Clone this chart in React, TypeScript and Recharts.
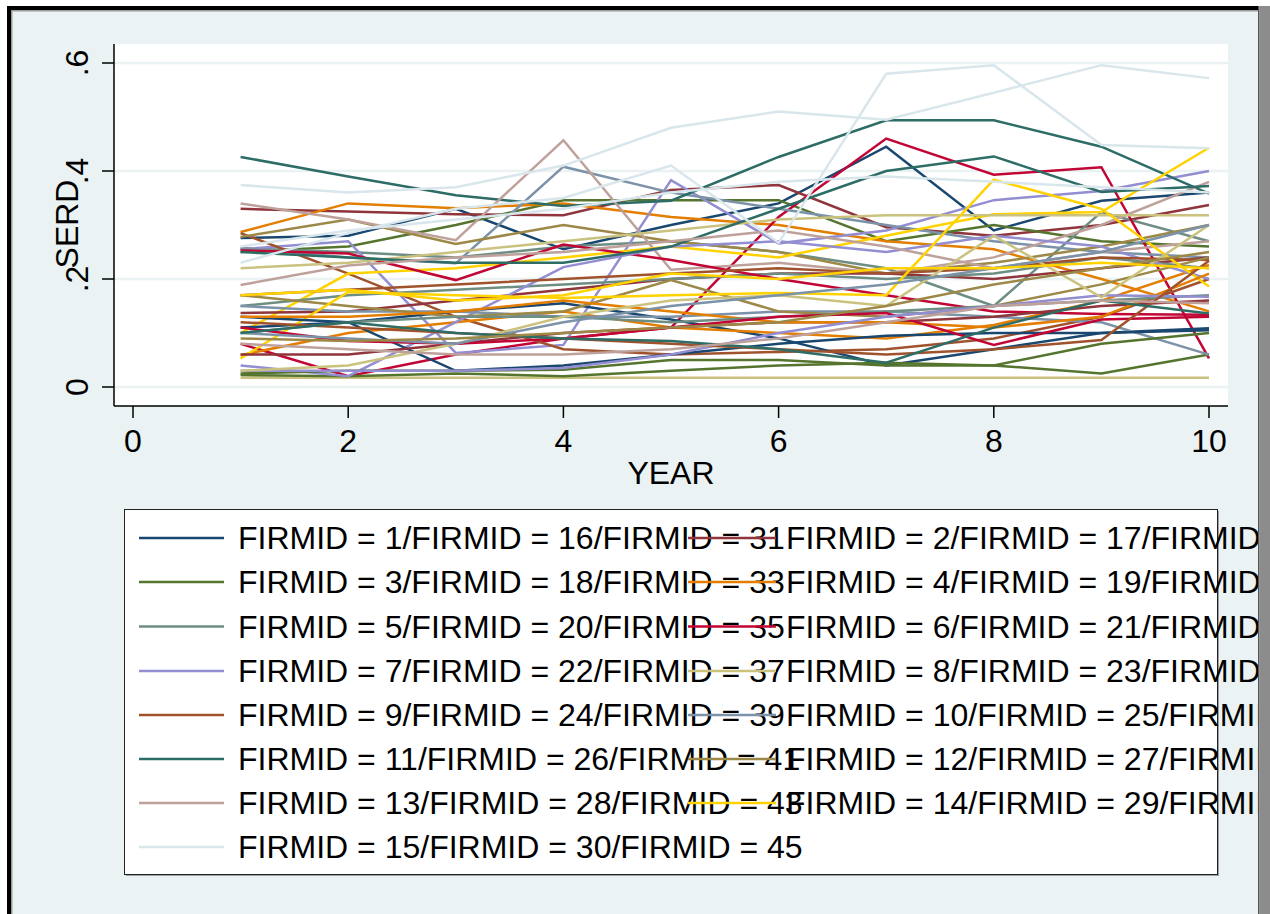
import React from "react";
import { LineChart, Line, XAxis, YAxis, CartesianGrid } from "recharts";

const years = [1, 2, 3, 4, 5, 6, 7, 8, 9, 10];
const xTicks = [0, 2, 4, 6, 8, 10];
const yTicks = [0, 0.2, 0.4, 0.6];
const yTickLabels = ["0", ".2", ".4", ".6"];

// Stata s2color pens, one per firm group (firm k uses pen (k-1) % 15)
const palette = [
    "#1a476f", "#90353b", "#55752f", "#e37e00", "#6e8e84",
    "#c10534", "#938dd2", "#cac27e", "#a0522d", "#7b92a8",
    "#2d6d66", "#9c8847", "#bfa19c", "#ffd200", "#d9e6eb",
];

// each group: firms c, c+15, c+30 (SERD by YEAR 1..10)
const navy = [
    [0.276, 0.28, 0.33, 0.255, 0.3, 0.34, 0.445, 0.29, 0.345, 0.36],
    [0.11, 0.12, 0.14, 0.155, 0.125, 0.09, 0.04, 0.07, 0.1, 0.109],
    [0.13, 0.12, 0.03, 0.04, 0.06, 0.08, 0.095, 0.1, 0.1, 0.105],
];
const maroon = [
    [0.33, 0.325, 0.32, 0.318, 0.365, 0.374, 0.296, 0.28, 0.3, 0.337],
    [0.137, 0.14, 0.16, 0.18, 0.2, 0.21, 0.21, 0.2, 0.22, 0.24],
    [0.06, 0.06, 0.08, 0.1, 0.11, 0.12, 0.12, 0.13, 0.15, 0.16],
];
const forestGreen = [
    [0.25, 0.26, 0.3, 0.346, 0.346, 0.346, 0.27, 0.3, 0.27, 0.26],
    [0.022, 0.02, 0.025, 0.02, 0.03, 0.04, 0.045, 0.04, 0.025, 0.06],
    [0.025, 0.03, 0.03, 0.032, 0.05, 0.05, 0.04, 0.04, 0.08, 0.1],
];
const dkOrange = [
    [0.287, 0.34, 0.331, 0.34, 0.315, 0.3, 0.27, 0.255, 0.2, 0.14],
    [0.059, 0.1, 0.12, 0.14, 0.11, 0.1, 0.09, 0.115, 0.16, 0.226],
    [0.13, 0.13, 0.14, 0.16, 0.14, 0.12, 0.12, 0.11, 0.13, 0.21],
];
const teal = [
    [0.257, 0.25, 0.24, 0.26, 0.27, 0.25, 0.22, 0.15, 0.324, 0.27],
    [0.15, 0.17, 0.18, 0.19, 0.2, 0.21, 0.2, 0.21, 0.24, 0.22],
    [0.1, 0.12, 0.13, 0.13, 0.12, 0.13, 0.14, 0.15, 0.16, 0.17],
];
const cranberry = [
    [0.08, 0.02, 0.06, 0.09, 0.11, 0.315, 0.46, 0.393, 0.407, 0.053],
    [0.253, 0.247, 0.198, 0.264, 0.235, 0.2, 0.17, 0.14, 0.135, 0.134],
    [0.11, 0.085, 0.08, 0.09, 0.11, 0.13, 0.137, 0.078, 0.125, 0.13],
];
const lavender = [
    [0.255, 0.27, 0.063, 0.078, 0.383, 0.266, 0.29, 0.346, 0.363, 0.4],
    [0.04, 0.02, 0.12, 0.222, 0.26, 0.27, 0.25, 0.28, 0.26, 0.2],
    [0.03, 0.03, 0.03, 0.035, 0.06, 0.1, 0.13, 0.15, 0.17, 0.167],
];
const khaki = [
    [0.017, 0.017, 0.017, 0.017, 0.017, 0.017, 0.017, 0.017, 0.017, 0.017],
    [0.22, 0.23, 0.25, 0.27, 0.29, 0.31, 0.318, 0.318, 0.318, 0.318],
    [0.03, 0.04, 0.08, 0.13, 0.16, 0.17, 0.15, 0.28, 0.166, 0.3],
];
const sienna = [
    [0.285, 0.21, 0.13, 0.07, 0.06, 0.065, 0.07, 0.09, 0.13, 0.2],
    [0.17, 0.18, 0.19, 0.2, 0.21, 0.22, 0.21, 0.22, 0.24, 0.235],
    [0.12, 0.11, 0.1, 0.09, 0.08, 0.07, 0.06, 0.07, 0.087, 0.234],
];
const emidBlue = [
    [0.257, 0.24, 0.229, 0.408, 0.36, 0.33, 0.3, 0.27, 0.25, 0.24],
    [0.15, 0.14, 0.14, 0.13, 0.13, 0.14, 0.14, 0.13, 0.12, 0.06],
    [0.1, 0.09, 0.08, 0.12, 0.15, 0.17, 0.19, 0.22, 0.25, 0.3],
];
const emerald = [
    [0.426, 0.39, 0.355, 0.335, 0.345, 0.426, 0.494, 0.494, 0.445, 0.358],
    [0.25, 0.24, 0.23, 0.23, 0.26, 0.33, 0.4, 0.427, 0.361, 0.372],
    [0.1, 0.12, 0.1, 0.09, 0.085, 0.07, 0.045, 0.11, 0.16, 0.136],
];
const brown = [
    [0.278, 0.31, 0.265, 0.3, 0.27, 0.25, 0.21, 0.23, 0.26, 0.3],
    [0.17, 0.15, 0.13, 0.14, 0.198, 0.14, 0.13, 0.15, 0.19, 0.24],
    [0.09, 0.085, 0.09, 0.1, 0.11, 0.12, 0.15, 0.19, 0.22, 0.25],
];
const erose = [
    [0.34, 0.31, 0.272, 0.457, 0.217, 0.23, 0.21, 0.24, 0.3, 0.38],
    [0.189, 0.225, 0.24, 0.25, 0.27, 0.29, 0.26, 0.22, 0.25, 0.27],
    [0.08, 0.07, 0.06, 0.06, 0.07, 0.09, 0.12, 0.15, 0.16, 0.155],
];
const gold = [
    [0.1, 0.21, 0.22, 0.24, 0.26, 0.24, 0.28, 0.32, 0.324, 0.443],
    [0.053, 0.176, 0.17, 0.165, 0.17, 0.174, 0.17, 0.384, 0.33, 0.186],
    [0.17, 0.18, 0.16, 0.17, 0.21, 0.2, 0.22, 0.22, 0.23, 0.22],
];
const bluishGray = [
    [0.374, 0.36, 0.37, 0.41, 0.48, 0.51, 0.495, 0.545, 0.596, 0.572],
    [0.23, 0.285, 0.33, 0.35, 0.41, 0.267, 0.58, 0.596, 0.448, 0.442],
    [0.26, 0.29, 0.31, 0.33, 0.36, 0.38, 0.39, 0.38, 0.37, 0.36],
];

const groups = [
    navy, maroon, forestGreen, dkOrange, teal, cranberry, lavender, khaki,
    sienna, emidBlue, emerald, brown, erose, gold, bluishGray,
];

const firmIds = Array.from({ length: 45 }, (_, i) => i + 1);

const data = years.map((year, i) => {
    const row: Record<string, number> = { year };
    groups.forEach((g, c) => {
        g.forEach((vals, j) => {
            row[`f${c + 1 + 15 * j}`] = vals[i];
        });
    });
    return row;
});

const font = "'Liberation Sans', Arial, sans-serif";
const fs = 32;

const legendLabel = (c: number) =>
    `FIRMID = ${c + 1}/FIRMID = ${c + 16}/FIRMID = ${c + 31}`;

const rowY = [538, 582, 626.5, 671, 715, 759, 803, 847];

function XTick({ x, payload }: any) {
    return (
        <text x={x} y={452} textAnchor="middle" fontSize={fs} fontFamily={font} fill="#000">
            {payload.value}
        </text>
    );
}

function YTick({ y, payload }: any) {
    const idx = yTicks.indexOf(payload.value);
    return (
        <text
            transform={`translate(88, ${y}) rotate(-90)`}
            textAnchor="middle"
            fontSize={fs}
            fontFamily={font}
            fill="#000"
        >
            {yTickLabels[idx]}
        </text>
    );
}

function Legend() {
    const leftCols = [0, 2, 4, 6, 8, 10, 12, 14];
    const rightCols = [1, 3, 5, 7, 9, 11, 13];
    return (
        <svg
            width={1270}
            height={914}
            style={{ position: "absolute", left: 0, top: 0, pointerEvents: "none" }}
        >
            <defs>
                <clipPath id="win">
                    <rect x={0} y={0} width={1258} height={914} />
                </clipPath>
            </defs>
            <g clipPath="url(#win)">
                <rect x={126} y={511} width={1093} height={365} fill="#9aa0a3" />
                <rect x={124.5} y={509.5} width={1093} height={365} fill="#fff" stroke="#222" strokeWidth={1} />
                {leftCols.map((c, i) => (
                    <g key={`l${c}`}>
                        <line x1={139} x2={224} y1={rowY[i]} y2={rowY[i]} stroke={palette[c]} strokeWidth={2.6} />
                        <text x={238} y={rowY[i] + 11} fontSize={fs} fontFamily={font} fill="#000">
                            {legendLabel(c)}
                        </text>
                    </g>
                ))}
                {rightCols.map((c, i) => (
                    <line key={`k${c}`} x1={688} x2={776} y1={rowY[i]} y2={rowY[i]} stroke={palette[c]} strokeWidth={2.6} />
                ))}
                {rightCols.map((c, i) => (
                    <text key={`r${c}`} x={786} y={rowY[i] + 11} fontSize={fs} fontFamily={font} fill="#000">
                        {legendLabel(c)}
                    </text>
                ))}
            </g>
            {/* window frame */}
            <rect x={7} y={6} width={4} height={908} fill="#000" />
            <rect x={7} y={6} width={1252} height={4} fill="#000" />
            <rect x={11} y={10} width={1.5} height={904} fill="#9a9a9a" />
            <rect x={11} y={10} width={1247} height={1.5} fill="#9a9a9a" />
            <rect x={1258} y={6} width={1.5} height={908} fill="#555" />
            <rect x={1259.5} y={6} width={10.5} height={908} fill="#8c8c8c" />
        </svg>
    );
}

export default function App() {
    return (
        <div
            style={{
                position: "absolute",
                left: 0,
                top: 0,
                width: 1270,
                height: 914,
                background: "#fff",
                fontFamily: font,
            }}
        >
            <div style={{ position: "absolute", left: 7, top: 6, width: 1263, height: 908, background: "#eaf2f3" }} />
            <div style={{ position: "absolute", left: 0, top: 0 }}>
                <LineChart
                    width={1270}
                    height={914}
                    data={data}
                    margin={{ top: 44, right: 42, bottom: 448, left: 54 }}
                >
                    <CartesianGrid
                        vertical={false}
                        horizontalValues={yTicks}
                        stroke="#eaf2f3"
                        strokeWidth={2.5}
                        fill="#ffffff"
                        fillOpacity={1}
                    />
                    <XAxis
                        type="number"
                        dataKey="year"
                        domain={[0, 10]}
                        ticks={xTicks}
                        padding={{ left: 19, right: 19 }}
                        height={60}
                        tickSize={12}
                        axisLine={{ stroke: "#000", strokeWidth: 1.5 }}
                        tickLine={{ stroke: "#000", strokeWidth: 1.5 }}
                        tick={<XTick />}
                        interval={0}
                    />
                    <YAxis
                        type="number"
                        domain={[0, 0.6]}
                        ticks={yTicks}
                        padding={{ top: 19, bottom: 19 }}
                        width={60}
                        tickSize={12}
                        axisLine={{ stroke: "#000", strokeWidth: 1.5 }}
                        tickLine={{ stroke: "#000", strokeWidth: 1.5 }}
                        tick={<YTick />}
                        interval={0}
                    />
                    {firmIds.map((k) => (
                        <Line
                            key={k}
                            type="linear"
                            dataKey={`f${k}`}
                            stroke={palette[(k - 1) % 15]}
                            strokeWidth={2.5}
                            dot={false}
                            activeDot={false}
                            isAnimationActive={false}
                        />
                    ))}
                    <text x={671} y={484} textAnchor="middle" fontSize={fs} fontFamily={font} fill="#000">
                        YEAR
                    </text>
                    <text
                        transform="translate(78, 224) rotate(-90)"
                        textAnchor="middle"
                        fontSize={fs}
                        fontFamily={font}
                        fill="#000"
                    >
                        SERD
                    </text>
                </LineChart>
            </div>
            <Legend />
        </div>
    );
}
